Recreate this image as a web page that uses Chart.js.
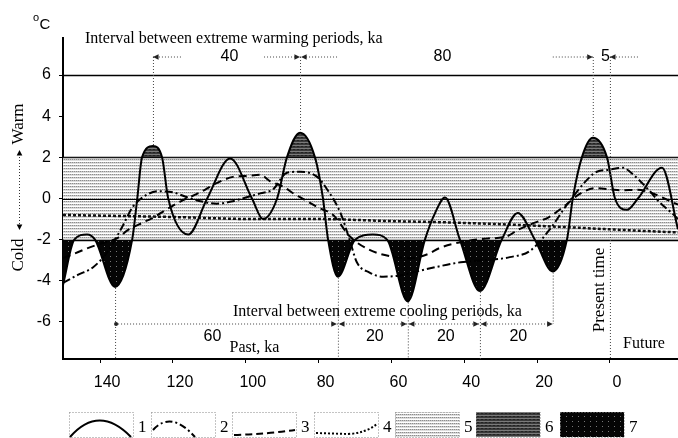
<!DOCTYPE html>
<html>
<head>
<meta charset="utf-8">
<script src="https://cdn.jsdelivr.net/npm/chart.js@4.4.1/dist/chart.umd.min.js"></script>
<style>
  html, body { margin: 0; padding: 0; background: #fff; }
</style>
</head>
<body>
<canvas id="climateChart" width="678" height="438"></canvas>
<script>
// age in ka (positive = past, negative = future), temperature anomaly in deg C
var xTicks = [140, 120, 100, 80, 60, 40, 20, 0];
var yTicks = [6, 4, 2, 0, -2, -4, -6];

// 1 - resulting curve
var solidAge = [150.2, 147.1, 143.6, 141.4, 135.9, 131.2, 129.8, 128.5, 125.5, 123.0, 121.3, 115.8, 110.6, 104.3, 98.3, 95.3, 91.4, 88.7, 85.1, 81.0, 78.8, 77.4, 74.7, 70.0, 65.1, 61.2, 55.5, 50.8, 48.0, 45.3, 41.2, 35.7, 29.7, 25.3, 20.6, 15.7, 11.8, 10.2, 7.7, 4.7, 0.8, -1.4, -4.7, -7.7, -14.3, -18.7];
var solidTemp = [-4.2, -2.0, -1.75, -2.0, -4.3, -2.0, 0, 2.0, 2.55, 2.0, 0, -1.75, 0, 1.95, 0, -1.0, 0, 2.0, 3.2, 2.0, 0, -2.0, -3.8, -2.0, -1.75, -2.0, -5.0, -2.0, -0.7, 0.05, -2.0, -4.5, -2.0, -0.7, -2.0, -3.55, -2.0, 0, 2.0, 2.95, 2.0, 0, -0.55, 0, 1.5, -1.5];

// 2 - dash-dot component
var dashDotAge = [150.2, 146, 142, 138, 134, 131, 127, 124, 120, 116, 112, 108, 104, 100, 96, 92.5, 88.7, 85, 80.4, 77.7, 74, 71.5, 69.5, 66, 62.3, 58, 52, 47, 41, 34, 27.5, 22, 16.5, 11.8, 5.5, 3.6, 0, -3.6, -5.5, -11, -13.7, -17.3, -18.7];
var dashDotTemp = [-4.1, -3.7, -3.35, -2.6, -1.4, -0.4, 0.2, 0.35, 0.3, 0.05, -0.15, -0.25, -0.15, 0.05, 0.25, 0.45, 1.25, 1.3, 1.05, 0.45, -0.7, -2.0, -3.1, -3.6, -3.8, -3.75, -3.5, -3.3, -3.1, -3.0, -2.85, -2.55, -1.5, -0.3, 1.05, 1.3, 1.4, 1.5, 1.3, 0.35, -0.2, -0.75, -1.0];

// 3 - dashed component
var dashedAge = [150.2, 146, 144, 140, 135, 132.5, 128, 125.7, 121, 118, 112.5, 108, 103.5, 99.6, 96, 93.4, 89.8, 86.5, 85, 80, 76, 71.4, 66, 60.4, 55, 50, 46.7, 40.4, 34, 28.5, 25, 21, 16.7, 12, 8.5, 4, 0, -3, -7.5, -11, -13.7, -18.7];
var dashedTemp = [-2.9, -2.6, -2.45, -2.2, -1.9, -1.55, -1.15, -0.95, -0.45, -0.15, 0.3, 0.75, 1.05, 1.1, 1.15, 0.85, 0.58, 0.2, 0.05, -0.45, -0.8, -1.85, -2.5, -2.8, -2.9, -2.7, -2.4, -2.1, -1.95, -1.85, -1.5, -1.2, -0.9, -0.3, 0.2, 0.5, 0.45, 0.4, 0.42, 0.3, 0.1, -0.3];

// 4 - trend
var dottedAge = [150.2, 120, 97, 80, 60, 47, 30, 11, 0, -18.7];
var dottedTemp = [-0.8, -0.9, -1.0, -1.0, -1.1, -1.15, -1.25, -1.4, -1.5, -1.65];

// extremes and the intervals between them
var warmAges = [125.5, 85.1, 4.7];
var warmIntervals = ['40', '80', '5'];
var coldAges = [135.9, 74.7, 55.5, 35.7, 15.7];
var coldIntervals = ['60', '20', '20', '20'];
var presentAge = 0;
var bandLow = -2, bandHigh = 2;
var refLines = [6, 2, 0, -2];

function pts(ages, temps) {
  return ages.map(function (a, i) { return { x: a, y: temps[i] }; });
}
function tempAt(age) {
  return solidTemp[solidAge.indexOf(age)];
}

function makePattern(w, h, paint) {
  var cv = document.createElement('canvas');
  cv.width = w; cv.height = h;
  var g = cv.getContext('2d');
  paint(g);
  return g.createPattern(cv, 'repeat');
}
var lightPat = makePattern(4, 3, function (g) {
  g.fillStyle = '#ffffff'; g.fillRect(0, 0, 4, 3);
  g.fillStyle = '#8c8c8c'; g.fillRect(0, 0, 1, 1); g.fillRect(2, 0, 1, 1);
  g.fillStyle = '#c4c4c4'; g.fillRect(1, 0, 1, 1); g.fillRect(3, 0, 1, 1);
  g.fillStyle = '#dedede'; g.fillRect(0, 1, 4, 1);
});
var darkPat = makePattern(4, 3, function (g) {
  g.fillStyle = '#3a3a3a'; g.fillRect(0, 0, 4, 3);
  g.fillStyle = '#7a7a7a'; g.fillRect(0, 1, 4, 1);
  g.fillStyle = '#222'; g.fillRect(1, 2, 2, 1);
});
var blackPat = makePattern(6, 5, function (g) {
  g.fillStyle = '#050505'; g.fillRect(0, 0, 6, 5);
  g.fillStyle = '#777'; g.fillRect(2, 1, 1, 1);
});

function line(c, x1, y1, x2, y2) {
  c.beginPath(); c.moveTo(x1, y1); c.lineTo(x2, y2); c.stroke();
}
function arrow(c, x, y, dir) {
  var s = 4;
  c.beginPath();
  if (dir === 'r') { c.moveTo(x, y); c.lineTo(x - s * 1.4, y - s * 0.7); c.lineTo(x - s * 1.4, y + s * 0.7); }
  if (dir === 'l') { c.moveTo(x, y); c.lineTo(x + s * 1.4, y - s * 0.7); c.lineTo(x + s * 1.4, y + s * 0.7); }
  if (dir === 'u') { c.moveTo(x, y); c.lineTo(x - s * 0.7, y + s * 1.4); c.lineTo(x + s * 0.7, y + s * 1.4); }
  if (dir === 'd') { c.moveTo(x, y); c.lineTo(x - s * 0.7, y - s * 1.4); c.lineTo(x + s * 0.7, y - s * 1.4); }
  c.closePath(); c.fill();
}

// light band between -2 and 2 and the reference lines
var bandPlugin = {
  id: 'band',
  beforeDatasetsDraw: function (chart) {
    var c = chart.ctx, a = chart.chartArea, ys = chart.scales.y;
    var top = ys.getPixelForValue(bandHigh), bot = ys.getPixelForValue(bandLow);
    c.save();
    c.fillStyle = lightPat;
    c.fillRect(a.left, top, a.right - a.left, bot - top);
    c.strokeStyle = '#000';
    refLines.forEach(function (v) {
      c.lineWidth = v === 0 ? 1 : 1.6;
      var y = Math.round(ys.getPixelForValue(v)) + 0.5;
      line(c, a.left, y, a.right, y);
    });
    c.restore();
  }
};

var serif = '"Liberation Serif", "Times New Roman", serif';
var sans = '"Liberation Sans", Arial, sans-serif';

var notesPlugin = {
  id: 'notes',
  afterDraw: function (chart) {
    var c = chart.ctx, a = chart.chartArea, xs = chart.scales.x, ys = chart.scales.y;
    c.save();
    c.fillStyle = '#000';
    c.textBaseline = 'middle';
    c.textAlign = 'center';

    // unit
    c.font = '11px ' + sans;
    c.fillText('o', 36, 18);
    c.font = '15px ' + sans;
    c.fillText('C', 45, 25);

    // warm / cold side labels
    c.font = '17px ' + serif;
    c.save(); c.translate(19, 124); c.rotate(-Math.PI / 2); c.fillText('Warm', 0, 0); c.restore();
    c.save(); c.translate(19, 255); c.rotate(-Math.PI / 2); c.fillText('Cold', 0, 0); c.restore();
    c.strokeStyle = '#333'; c.lineWidth = 1; c.setLineDash([1, 2]);
    line(c, 19.5, 154, 19.5, 226);
    c.setLineDash([]);
    arrow(c, 19.5, 150, 'u');
    arrow(c, 19.5, 230, 'd');

    // warming intervals (top)
    var rowY = 57;
    var wp = warmAges.map(function (v) { return xs.getPixelForValue(v); });
    var pNow = xs.getPixelForValue(presentAge);
    c.font = '16px ' + serif;
    c.textAlign = 'left';
    c.fillText('Interval between extreme warming periods, ka', 85, 39);
    c.strokeStyle = '#444'; c.lineWidth = 1; c.setLineDash([1, 2]);
    warmAges.forEach(function (v, i) {
      line(c, wp[i] + 0.5, rowY, wp[i] + 0.5, ys.getPixelForValue(tempAt(v)) - 1);
    });
    line(c, pNow + 0.5, rowY, pNow + 0.5, a.bottom);
    line(c, wp[0], rowY, wp[0] + 28, rowY);
    line(c, wp[1] - 36, rowY, wp[1] + 38, rowY);
    line(c, wp[2] - 40, rowY, wp[2], rowY);
    line(c, pNow, rowY, pNow + 30, rowY);
    c.setLineDash([]);
    c.fillStyle = '#222';
    arrow(c, wp[0], rowY, 'l');
    arrow(c, wp[1], rowY, 'r');
    arrow(c, wp[1] + 1, rowY, 'l');
    arrow(c, wp[2], rowY, 'r');
    arrow(c, pNow, rowY, 'l');
    c.fillStyle = '#000';
    c.font = '16px ' + sans;
    c.textAlign = 'center';
    c.fillText(warmIntervals[0], (wp[0] + wp[1]) / 2 + 3, rowY);
    c.fillText(warmIntervals[1], (wp[1] + wp[2]) / 2 - 4, rowY);
    c.fillText(warmIntervals[2], (wp[2] + pNow) / 2 + 4, rowY);

    // cooling intervals (bottom)
    var lowY = 324;
    var cp = coldAges.map(function (v) { return xs.getPixelForValue(v); });
    c.strokeStyle = '#444'; c.setLineDash([1, 2]);
    coldAges.forEach(function (v, i) {
      var yEnd = i === coldAges.length - 1 ? lowY : a.bottom;
      line(c, cp[i] + 0.5, ys.getPixelForValue(tempAt(v)) + 1, cp[i] + 0.5, yEnd);
    });
    line(c, cp[0], lowY, cp[cp.length - 1], lowY);
    c.setLineDash([]);
    c.fillStyle = '#222';
    c.beginPath(); c.arc(cp[0] + 1, lowY, 2, 0, Math.PI * 2); c.fill();
    for (var i = 1; i < cp.length - 1; i++) {
      arrow(c, cp[i] - 1, lowY, 'r');
      arrow(c, cp[i] + 1, lowY, 'l');
    }
    arrow(c, cp[cp.length - 1], lowY, 'r');
    c.fillStyle = '#000';
    c.font = '16px ' + serif;
    c.textAlign = 'left';
    c.fillText('Interval between extreme cooling periods, ka', 233, 312);
    c.textAlign = 'center';
    c.font = '16px ' + sans;
    coldIntervals.forEach(function (t, i) {
      var mx = (cp[i] + cp[i + 1]) / 2;
      c.fillText(t, i === 0 ? mx - 14 : mx + 2, lowY + 13);
    });
    c.font = '16px ' + serif;
    c.fillText('Past, ka', (cp[0] + cp[1]) / 2 + 28, lowY + 24);
    c.fillText('Future', 644, 344);
    c.font = '17px ' + serif;
    c.save(); c.translate(pNow - 10, 290); c.rotate(-Math.PI / 2); c.fillText('Present time', 0, 0); c.restore();

    // legend
    var boxX = [69, 151, 232, 314, 395, 476, 560];
    var bw = 64, by = 412, bh = 25;
    boxX.forEach(function (bx, k) {
      if (k === 4) { c.fillStyle = lightPat; c.fillRect(bx, by, bw, bh); }
      if (k === 5) { c.fillStyle = darkPat; c.fillRect(bx, by, bw, bh); }
      if (k === 6) { c.fillStyle = blackPat; c.fillRect(bx, by, bw, bh); }
      c.strokeStyle = '#888'; c.lineWidth = 1; c.setLineDash([1, 2]);
      c.strokeRect(bx + 0.5, by + 0.5, bw, bh);
      c.strokeStyle = '#000'; c.lineWidth = 2;
      c.beginPath();
      if (k === 0) { c.setLineDash([]); c.moveTo(bx + 1, by + 25); c.quadraticCurveTo(bx + 30, by - 8, bx + 62, by + 25); }
      if (k === 1) { c.setLineDash([7, 3, 2, 3]); c.moveTo(bx + 2, by + 18); c.quadraticCurveTo(bx + 20, by - 2, bx + 44, by + 25); }
      if (k === 2) { c.setLineDash([7, 4]); c.moveTo(bx + 2, by + 23); c.quadraticCurveTo(bx + 35, by + 22, bx + 63, by + 18); }
      if (k === 3) { c.setLineDash([2, 2]); c.moveTo(bx + 2, by + 21); c.lineTo(bx + 34, by + 22); c.quadraticCurveTo(bx + 52, by + 21, bx + 63, by + 12); }
      c.stroke();
      c.setLineDash([]);
      c.fillStyle = '#000';
      c.font = '17px ' + serif;
      c.textAlign = 'left';
      c.fillText(String(k + 1), bx + bw + 5, 428);
    });
    c.restore();
  }
};

var ctx = document.getElementById('climateChart').getContext('2d');
var climateChart = new Chart(ctx, {
  type: 'line',
  data: {
    datasets: [{
      label: '1',
      data: pts(solidAge, solidTemp),
      borderColor: '#000',
      borderWidth: 2,
      fill: false
    }, {
      label: '2',
      data: pts(dashDotAge, dashDotTemp),
      borderColor: '#000',
      borderWidth: 2,
      borderDash: [8, 3, 2, 3],
      fill: false
    }, {
      label: '3',
      data: pts(dashedAge, dashedTemp),
      borderColor: '#000',
      borderWidth: 2,
      borderDash: [8, 5],
      fill: false
    }, {
      label: '4',
      data: pts(dottedAge, dottedTemp),
      borderColor: '#111',
      borderWidth: 2.5,
      borderDash: [3, 2],
      fill: false
    }, {
      label: '6',
      data: pts(solidAge, solidTemp),
      borderColor: 'rgba(0,0,0,0)',
      borderWidth: 0,
      fill: { target: { value: bandHigh }, above: darkPat, below: 'rgba(0,0,0,0)' }
    }, {
      label: '7',
      data: pts(solidAge, solidTemp),
      borderColor: 'rgba(0,0,0,0)',
      borderWidth: 0,
      fill: { target: { value: bandLow }, above: 'rgba(0,0,0,0)', below: blackPat }
    }]
  },
  options: {
    responsive: false,
    animation: false,
    devicePixelRatio: 1,
    layout: { padding: { top: 38, right: 0, bottom: 0, left: 0 } },
    elements: {
      point: { radius: 0 },
      line: { cubicInterpolationMode: 'monotone' }
    },
    plugins: {
      legend: { display: false },
      tooltip: { enabled: false }
    },
    scales: {
      x: {
        type: 'linear',
        reverse: true,
        min: -18.7,
        max: 150.2,
        afterBuildTicks: function (s) { s.ticks = xTicks.map(function (v) { return { value: v }; }); },
        afterFit: function (s) { s.height = 79; },
        border: { display: true, color: '#000', width: 2 },
        grid: { display: true, drawOnChartArea: false, drawTicks: true, tickLength: 4, color: '#000' },
        ticks: { color: '#000', font: { family: sans, size: 16 }, padding: 10, labelOffset: 7, maxRotation: 0 }
      },
      y: {
        min: -7.8,
        max: 7.8,
        afterBuildTicks: function (s) { s.ticks = yTicks.map(function (v) { return { value: v }; }); },
        afterFit: function (s) { s.width = 63; },
        border: { display: true, color: '#000', width: 2 },
        grid: { display: true, drawOnChartArea: false, drawTicks: true, tickLength: 4, color: '#000' },
        ticks: { color: '#000', font: { family: sans, size: 16 }, padding: 8 }
      }
    }
  },
  plugins: [bandPlugin, notesPlugin]
});
</script>
</body>
</html>
